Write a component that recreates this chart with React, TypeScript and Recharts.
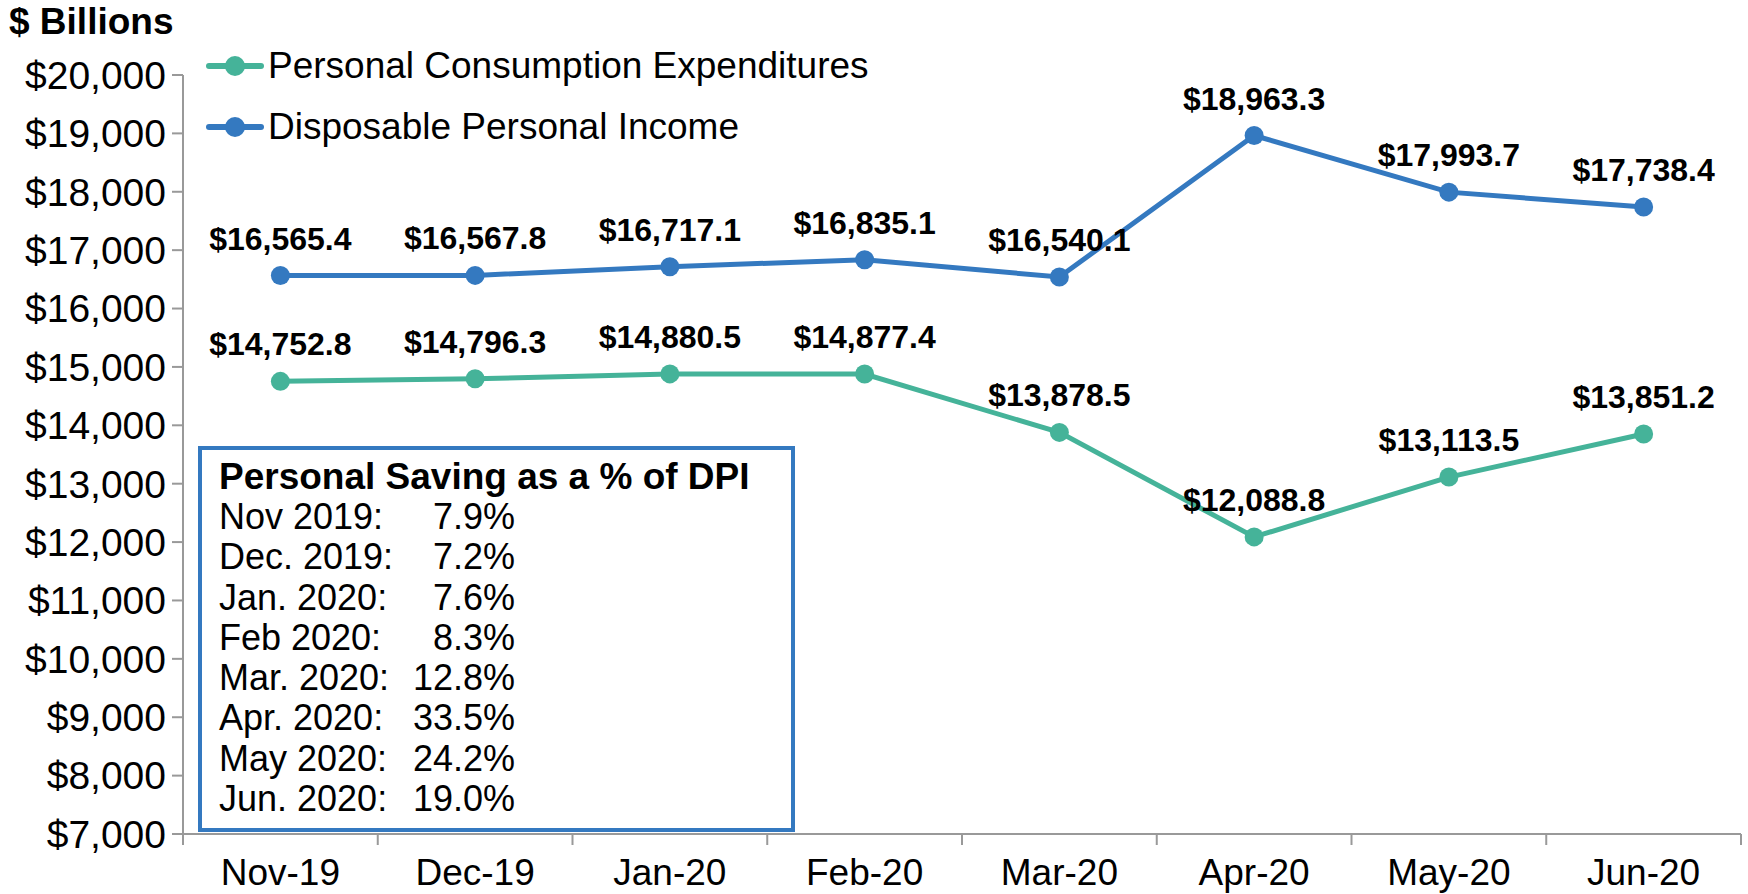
import { LineChart, Line, XAxis, YAxis, LabelList } from 'recharts';

const months = ['Nov-19', 'Dec-19', 'Jan-20', 'Feb-20', 'Mar-20', 'Apr-20', 'May-20', 'Jun-20'];
const pce = [14752.8, 14796.3, 14880.5, 14877.4, 13878.5, 12088.8, 13113.5, 13851.2];
const dpi = [16565.4, 16567.8, 16717.1, 16835.1, 16540.1, 18963.3, 17993.7, 17738.4];
const yTicks = [7000, 8000, 9000, 10000, 11000, 12000, 13000, 14000, 15000, 16000, 17000, 18000, 19000, 20000];

const savingMonths = ['Nov 2019:', 'Dec. 2019:', 'Jan. 2020:', 'Feb 2020:', 'Mar. 2020:', 'Apr. 2020:', 'May 2020:', 'Jun. 2020:'];
const savingRates = ['7.9%', '7.2%', '7.6%', '8.3%', '12.8%', '33.5%', '24.2%', '19.0%'];

const data = months.map((m, i) => ({ name: m, pce: pce[i], dpi: dpi[i] }));

const FONT = '"Liberation Sans", Arial, sans-serif';
const TEAL = '#45B399';
const BLUE = '#3479C0';
const AXIS = '#999999';

const W = 1748;
const H = 894;
const M = { top: 75, right: 7, left: 0, bottom: 0 };
const Y_W = 183;
const X_H = 60;
const BAND = (W - M.left - M.right - Y_W) / months.length;

const money = (v: number) => '$' + v.toLocaleString('en-US', { minimumFractionDigits: 0, maximumFractionDigits: 0 });
const moneyLabel = (v: any) =>
    '$' + Number(v).toLocaleString('en-US', { minimumFractionDigits: 1, maximumFractionDigits: 1 });

const XTick = (props: any) => {
    const { x, y, payload, index } = props;
    const half = payload && payload.offset ? payload.offset : BAND / 2;
    const last = index === months.length - 1;
    return (
        <g>
            <line x1={x - half} x2={x - half} y1={y} y2={y + 11} stroke={AXIS} strokeWidth={2} />
            {last && <line x1={x + half} x2={x + half} y1={y} y2={y + 11} stroke={AXIS} strokeWidth={2} />}
            <text x={x} y={y + 38} textAnchor="middle" dominantBaseline="central" fontSize={37} fill="#000" fontFamily={FONT}>
                {payload.value}
            </text>
        </g>
    );
};

const LegendMark = ({ color }: { color: string }) => (
    <svg width={58} height={22} style={{ display: 'block' }}>
        <line x1={3} x2={55} y1={11} y2={11} stroke={color} strokeWidth={6} strokeLinecap="round" />
        <circle cx={29} cy={11} r={10} fill={color} />
    </svg>
);

export default function App() {
    return (
        <div style={{ position: 'absolute', left: 0, top: 0, width: W, height: H, background: '#fff', fontFamily: FONT }}>
            <LineChart width={W} height={H} data={data} margin={M}>
                <XAxis
                    dataKey="name"
                    scale="band"
                    height={X_H}
                    axisLine={{ stroke: AXIS, strokeWidth: 2 }}
                    tickLine={false}
                    tickSize={0}
                    tickMargin={0}
                    interval={0}
                    tick={<XTick />}
                />
                <YAxis
                    width={Y_W}
                    domain={[7000, 20000]}
                    ticks={yTicks}
                    interval={0}
                    tickFormatter={money}
                    axisLine={{ stroke: AXIS, strokeWidth: 2 }}
                    tickLine={{ stroke: AXIS, strokeWidth: 2 }}
                    tickSize={11}
                    tickMargin={6}
                    tick={{ fontSize: 39, fill: '#000', fontFamily: FONT }}
                />
                <Line
                    dataKey="dpi"
                    stroke={BLUE}
                    strokeWidth={5}
                    dot={{ r: 9.5, fill: BLUE, stroke: 'none' }}
                    activeDot={false}
                    isAnimationActive={false}
                >
                    <LabelList
                        dataKey="dpi"
                        position="top"
                        offset={26}
                        formatter={moneyLabel}
                        fontSize={32}
                        fontWeight="bold"
                        fill="#000"
                        fontFamily={FONT}
                    />
                </Line>
                <Line
                    dataKey="pce"
                    stroke={TEAL}
                    strokeWidth={5}
                    dot={{ r: 9.5, fill: TEAL, stroke: 'none' }}
                    activeDot={false}
                    isAnimationActive={false}
                >
                    <LabelList
                        dataKey="pce"
                        position="top"
                        offset={26}
                        formatter={moneyLabel}
                        fontSize={32}
                        fontWeight="bold"
                        fill="#000"
                        fontFamily={FONT}
                    />
                </Line>
            </LineChart>

            {/* axis unit title */}
            <div style={{ position: 'absolute', left: 9, top: 0, lineHeight: '44px', fontSize: 37, fontWeight: 'bold' }}>
                $ Billions
            </div>

            {/* legend */}
            {[
                { name: 'Personal Consumption Expenditures', color: TEAL, cy: 66 },
                { name: 'Disposable Personal Income', color: BLUE, cy: 127 },
            ].map((it) => (
                <div
                    key={it.name}
                    style={{ position: 'absolute', left: 206, top: it.cy - 22, height: 44, display: 'flex', alignItems: 'center' }}
                >
                    <LegendMark color={it.color} />
                    <span style={{ fontSize: 37, lineHeight: '44px', marginLeft: 4 }}>{it.name}</span>
                </div>
            ))}

            {/* saving rate box */}
            <div
                style={{
                    position: 'absolute',
                    left: 198,
                    top: 446,
                    width: 597,
                    height: 386,
                    boxSizing: 'border-box',
                    border: `4px solid ${BLUE}`,
                    background: '#fff',
                    paddingLeft: 17,
                    paddingTop: 7,
                    fontSize: 36,
                    color: '#000',
                }}
            >
                <div style={{ fontWeight: 'bold', lineHeight: '40px', fontSize: 37 }}>Personal Saving as a % of DPI</div>
                {savingMonths.map((m, i) => (
                    <div key={m} style={{ display: 'flex', justifyContent: 'space-between', width: 296, lineHeight: '40.3px' }}>
                        <span>{m}</span>
                        <span>{savingRates[i]}</span>
                    </div>
                ))}
            </div>
        </div>
    );
}
